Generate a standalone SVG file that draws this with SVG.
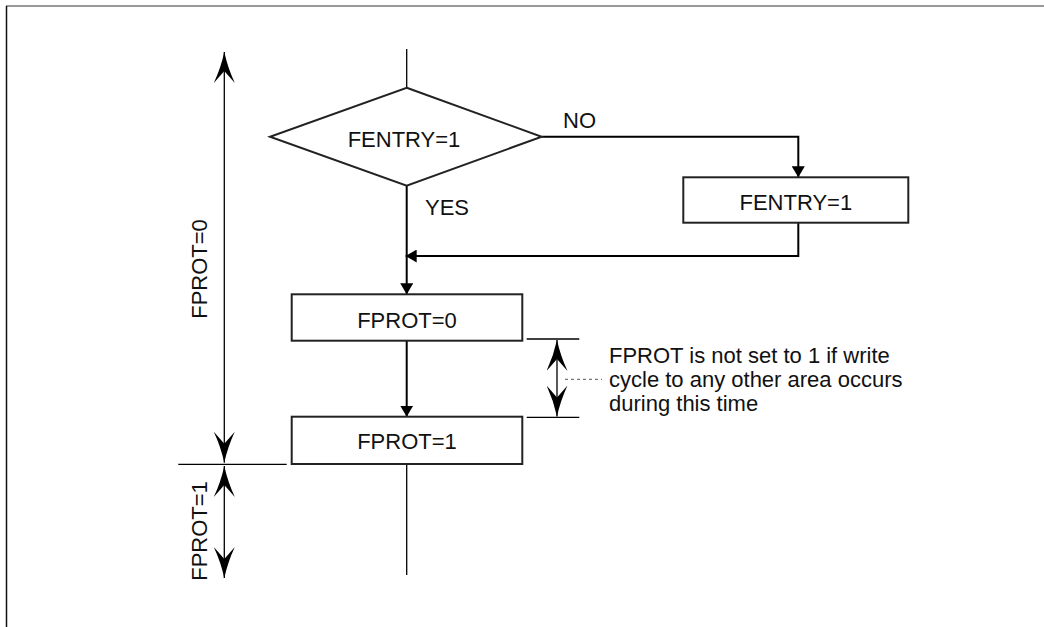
<svg xmlns="http://www.w3.org/2000/svg" width="1044" height="627" viewBox="0 0 1044 627">
<style>
text{font-family:"Liberation Sans",Arial,sans-serif;font-size:22px;fill:#111}
.c{text-anchor:middle}
.shape{fill:#fff;stroke:#222;stroke-width:2}
.flow{fill:none;stroke:#000;stroke-width:2}
.thin{fill:none;stroke:#000;stroke-width:1.3}
.dim{fill:none;stroke:#000;stroke-width:1.3}
</style>
<defs>
<marker id="tri" markerUnits="userSpaceOnUse" viewBox="0 0 11 13" refX="11" refY="6.5" markerWidth="11" markerHeight="13" orient="auto">
<path d="M0,0 L11,6.5 L0,13 Z" fill="#000"/>
</marker>
<marker id="stealth" markerUnits="userSpaceOnUse" viewBox="0 0 31 21" refX="31" refY="10.5" markerWidth="31" markerHeight="21" orient="auto-start-reverse">
<path d="M0,0 Q15,7 31,10.5 Q15,14 0,21 L12,10.5 Z" fill="#000"/>
</marker>
</defs>
<rect width="1044" height="627" fill="#fff"/>
<g id="frame">
<line x1="6" y1="6" x2="1044" y2="6" stroke="#777" stroke-width="1.5"/>
<line x1="6.5" y1="6" x2="6.5" y2="627" stroke="#111" stroke-width="1.5"/>
</g>
<g id="connectors">
<line class="thin" x1="406.7" y1="49" x2="406.7" y2="87.7"/>
<polyline class="flow" points="541.7,136.7 798.3,136.7 798.3,177.3" marker-end="url(#tri)"/>
<polyline class="flow" points="798.3,222.7 798.3,256 405.7,256" marker-end="url(#tri)"/>
<line class="flow" x1="406.7" y1="185.7" x2="406.7" y2="294.3" marker-end="url(#tri)"/>
<line class="flow" x1="406.7" y1="340.7" x2="406.7" y2="416.7" marker-end="url(#tri)"/>
<line class="thin" x1="406.7" y1="464" x2="406.7" y2="575"/>
</g>
<g id="dimensions">
<line class="dim" x1="224.3" y1="52" x2="224.3" y2="462.7" marker-start="url(#stealth)" marker-end="url(#stealth)"/>
<line class="dim" x1="178.3" y1="464.3" x2="286.7" y2="464.3"/>
<line class="dim" x1="224.3" y1="466" x2="224.3" y2="578" marker-start="url(#stealth)" marker-end="url(#stealth)"/>
<line class="dim" x1="526.7" y1="339" x2="579.3" y2="339"/>
<line class="dim" x1="526.7" y1="417.3" x2="579.3" y2="417.3"/>
<line class="dim" x1="557" y1="340" x2="557" y2="416.5" marker-start="url(#stealth)" marker-end="url(#stealth)"/>
<line x1="565" y1="379.3" x2="602" y2="379.3" stroke="#555" stroke-width="1" stroke-dasharray="3,3"/>
</g>
<g id="decision">
<polygon class="shape" stroke-width="1.5" points="406.7,87.7 541.7,136.7 406.7,185.7 270,136.7"/>
<text class="c" x="404" y="146.5">FENTRY=1</text>
</g>
<g id="labelNO"><text x="563" y="128">NO</text></g>
<g id="labelYES"><text x="425" y="215">YES</text></g>
<g id="setFENTRY">
<rect class="shape" x="683.3" y="177.3" width="225" height="45.4"/>
<text class="c" x="795.8" y="210">FENTRY=1</text>
</g>
<g id="setFPROT0">
<rect class="shape" x="291.7" y="294.3" width="230.6" height="46.4"/>
<text class="c" x="407" y="328">FPROT=0</text>
</g>
<g id="setFPROT1">
<rect class="shape" x="291.7" y="416.7" width="230.6" height="47.3"/>
<text class="c" x="407" y="449">FPROT=1</text>
</g>
<g id="dimLabels">
<text class="c" transform="translate(206.5,269) rotate(-90)">FPROT=0</text>
<text class="c" transform="translate(206.5,531) rotate(-90)">FPROT=1</text>
</g>
<g id="note">
<text x="609" y="363">FPROT is not set to 1 if write</text>
<text x="609" y="387">cycle to any other area occurs</text>
<text x="609" y="411">during this time</text>
</g>
</svg>
